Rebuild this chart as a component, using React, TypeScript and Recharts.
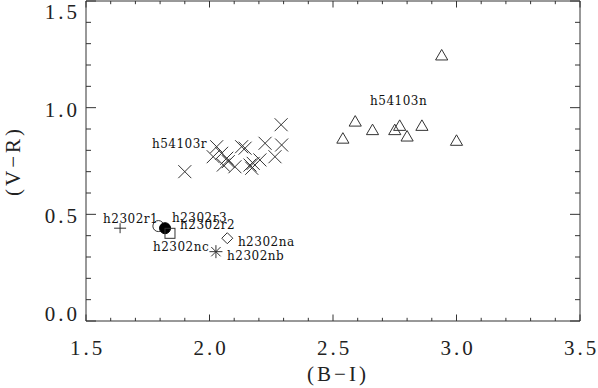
import { ScatterChart, Scatter, XAxis, YAxis, Label } from "recharts";

// colour-colour plot, (B-I) vs (V-R)
const INK = "#333333";
const AXIS_FONT = "'Liberation Serif', 'Times New Roman', serif";
const TAG_FONT = "'DejaVu Serif', serif";

const xTicks = [1.5, 1.6, 1.7, 1.8, 1.9, 2.0, 2.1, 2.2, 2.3, 2.4, 2.5, 2.6, 2.7, 2.8, 2.9, 3.0, 3.1, 3.2, 3.3, 3.4, 3.5];
const yTicks = [0, 0.1, 0.2, 0.3, 0.4, 0.5, 0.6, 0.7, 0.8, 0.9, 1.0, 1.1, 1.2, 1.3, 1.4, 1.5];

// h54103n (triangles)
const h54103n = [
  { x: 2.94, y: 1.24 },
  { x: 2.59, y: 0.93 },
  { x: 2.54, y: 0.85 },
  { x: 2.66, y: 0.89 },
  { x: 2.75, y: 0.89 },
  { x: 2.77, y: 0.91 },
  { x: 2.8, y: 0.86 },
  { x: 2.86, y: 0.91 },
  { x: 3.0, y: 0.84 },
];

// h54103r (crosses)
const h54103r = [
  { x: 1.9, y: 0.7 },
  { x: 2.29, y: 0.92 },
  { x: 2.225, y: 0.833 },
  { x: 2.292, y: 0.825 },
  { x: 2.029, y: 0.817 },
  { x: 2.13, y: 0.817 },
  { x: 2.144, y: 0.81 },
  { x: 2.049, y: 0.786 },
  { x: 2.015, y: 0.77 },
  { x: 2.07, y: 0.763 },
  { x: 2.076, y: 0.747 },
  { x: 2.056, y: 0.731 },
  { x: 2.103, y: 0.723 },
  { x: 2.164, y: 0.731 },
  { x: 2.177, y: 0.739 },
  { x: 2.204, y: 0.755 },
  { x: 2.265, y: 0.77 },
  { x: 2.171, y: 0.716 },
];

// h2302 single points
const h2302r1 = [{ x: 1.638, y: 0.435 }];
const h2302r3 = [{ x: 1.793, y: 0.445 }];
const h2302r2 = [{ x: 1.82, y: 0.435 }];
const h2302nc = [{ x: 1.84, y: 0.411 }];
const h2302na = [{ x: 2.072, y: 0.388 }];
const h2302nb = [{ x: 2.026, y: 0.325 }];

// name tags: left edge / baseline in data units
const tags = [
  { x: 2.65, y: 1.012, name: "h54103n" },
  { x: 1.767, y: 0.811, name: "h54103r" },
  { x: 1.569, y: 0.459, name: "h2302r1" },
  { x: 1.848, y: 0.464, name: "h2302r3" },
  { x: 1.881, y: 0.429, name: "h2302r2" },
  { x: 1.771, y: 0.326, name: "h2302nc" },
  { x: 2.115, y: 0.352, name: "h2302na" },
  { x: 2.071, y: 0.288, name: "h2302nb" },
];

const isMajor = (v: number) => Math.abs(v * 2 - Math.round(v * 2)) < 1e-6;

const axisText = {
  fontFamily: AXIS_FONT,
  fontSize: 21,
  fill: "#222",
  letterSpacing: 3,
} as const;

function BottomTick(p: any) {
  const v = p.payload.value;
  const major = isMajor(v);
  return (
    <g>
      <line x1={p.x} x2={p.x} y1={p.y} y2={p.y - (major ? 6.5 : 3.2)} stroke={INK} />
      {major && (
        <text x={p.x + 1.5} y={p.y + 34} textAnchor="middle" style={axisText}>
          {v.toFixed(1)}
        </text>
      )}
    </g>
  );
}

function TopTick(p: any) {
  const major = isMajor(p.payload.value);
  return <line x1={p.x} x2={p.x} y1={p.y} y2={p.y + (major ? 6.5 : 3.2)} stroke={INK} />;
}

function LeftTick(p: any) {
  const v = p.payload.value;
  const major = isMajor(v);
  // edge labels are pulled inside the frame's height, as in the original
  const dy = v === 0 ? 0 : v === 1.5 ? 18 : 9;
  return (
    <g>
      <line x1={p.x} x2={p.x + (major ? 10 : 5)} y1={p.y} y2={p.y} stroke={INK} />
      {major && (
        <text x={p.x - 6} y={p.y + dy} textAnchor="end" style={axisText}>
          {v.toFixed(1)}
        </text>
      )}
    </g>
  );
}

function RightTick(p: any) {
  const major = isMajor(p.payload.value);
  return <line x1={p.x} x2={p.x - (major ? 10 : 5)} y1={p.y} y2={p.y} stroke={INK} />;
}

const line = { stroke: INK, strokeWidth: 1, fill: "none" };

function CrossMark({ cx, cy }: any) {
  const r = 6.5;
  return <path d={`M${cx - r},${cy - r}L${cx + r},${cy + r}M${cx - r},${cy + r}L${cx + r},${cy - r}`} {...line} />;
}

function TriangleMark({ cx, cy }: any) {
  const r = 7;
  return <path d={`M${cx},${cy - r}L${cx + r * 0.87},${cy + r / 2}L${cx - r * 0.87},${cy + r / 2}Z`} {...line} />;
}

function PlusMark({ cx, cy }: any) {
  return <path d={`M${cx - 6},${cy}L${cx + 6},${cy}M${cx},${cy - 5}L${cx},${cy + 5}`} {...line} />;
}

function OpenCircle({ cx, cy }: any) {
  return <circle cx={cx} cy={cy} r={5.5} {...line} />;
}

function FilledCircle({ cx, cy }: any) {
  return <circle cx={cx} cy={cy} r={5.5} fill="#000" stroke="#000" />;
}

function SquareMark({ cx, cy }: any) {
  return <rect x={cx - 5} y={cy - 5} width={10} height={10} {...line} />;
}

function DiamondMark({ cx, cy }: any) {
  const r = 5.5;
  return <path d={`M${cx},${cy - r}L${cx + r},${cy}L${cx},${cy + r}L${cx - r},${cy}Z`} {...line} />;
}

function AsteriskMark({ cx, cy }: any) {
  const r = 6.5;
  const d = r * 0.72;
  return (
    <path
      d={`M${cx - r},${cy}L${cx + r},${cy}M${cx},${cy - r}L${cx},${cy + r}M${cx - d},${cy - d}L${cx + d},${cy + d}M${cx - d},${cy + d}L${cx + d},${cy - d}`}
      {...line}
    />
  );
}

function TagText(p: any) {
  return (
    <text
      x={p.cx}
      y={p.cy}
      style={{ fontFamily: TAG_FONT, fontSize: 12, fill: "#111", letterSpacing: 0.5 }}
    >
      {p.payload?.name}
    </text>
  );
}

export default function App() {
  return (
    <div style={{ position: "absolute", left: 0, top: 0, background: "#fff" }}>
      <ScatterChart
        width={598}
        height={388}
        margin={{ top: 0, right: 17, bottom: 0, left: 0 }}
      >
        <XAxis
          type="number"
          dataKey="x"
          domain={[1.5, 3.5]}
          ticks={xTicks}
          interval={0}
          allowDataOverflow
          height={67}
          tickSize={0}
          tickMargin={0}
          tickLine={false}
          axisLine={{ stroke: INK }}
          tick={(p: any) => <BottomTick {...p} />}
        >
          <Label
            content={({ viewBox }: any) => (
              <text
                x={viewBox.x + viewBox.width / 2 + 5}
                y={viewBox.y + 60}
                textAnchor="middle"
                style={axisText}
              >
                (B−I)
              </text>
            )}
          />
        </XAxis>
        <XAxis
          xAxisId="top"
          orientation="top"
          type="number"
          dataKey="x"
          domain={[1.5, 3.5]}
          ticks={xTicks}
          interval={0}
          allowDataOverflow
          height={1}
          tickSize={0}
          tickMargin={0}
          tickLine={false}
          axisLine={{ stroke: INK }}
          tick={(p: any) => <TopTick {...p} />}
        />
        <YAxis
          type="number"
          dataKey="y"
          domain={[0, 1.5]}
          ticks={yTicks}
          interval={0}
          allowDataOverflow
          width={86}
          tickSize={0}
          tickMargin={0}
          tickLine={false}
          axisLine={{ stroke: INK }}
          tick={(p: any) => <LeftTick {...p} />}
        >
          <Label
            content={({ viewBox }: any) => {
              const cy = viewBox.y + viewBox.height / 2;
              return (
                <text
                  x={20}
                  y={cy}
                  textAnchor="middle"
                  transform={`rotate(-90, 20, ${cy})`}
                  style={axisText}
                >
                  (V−R)
                </text>
              );
            }}
          />
        </YAxis>
        <YAxis
          yAxisId="right"
          orientation="right"
          type="number"
          dataKey="y"
          domain={[0, 1.5]}
          ticks={yTicks}
          interval={0}
          allowDataOverflow
          width={1}
          tickSize={0}
          tickMargin={0}
          tickLine={false}
          axisLine={{ stroke: INK }}
          tick={(p: any) => <RightTick {...p} />}
        />

        <Scatter data={h54103n} shape={(p: any) => <TriangleMark {...p} />} isAnimationActive={false} />
        <Scatter data={h54103r} shape={(p: any) => <CrossMark {...p} />} isAnimationActive={false} />
        <Scatter data={h2302r1} shape={(p: any) => <PlusMark {...p} />} isAnimationActive={false} />
        <Scatter data={h2302r3} shape={(p: any) => <OpenCircle {...p} />} isAnimationActive={false} />
        <Scatter data={h2302r2} shape={(p: any) => <FilledCircle {...p} />} isAnimationActive={false} />
        <Scatter data={h2302nc} shape={(p: any) => <SquareMark {...p} />} isAnimationActive={false} />
        <Scatter data={h2302na} shape={(p: any) => <DiamondMark {...p} />} isAnimationActive={false} />
        <Scatter data={h2302nb} shape={(p: any) => <AsteriskMark {...p} />} isAnimationActive={false} />
        <Scatter data={tags} shape={(p: any) => <TagText {...p} />} isAnimationActive={false} />
      </ScatterChart>
    </div>
  );
}
